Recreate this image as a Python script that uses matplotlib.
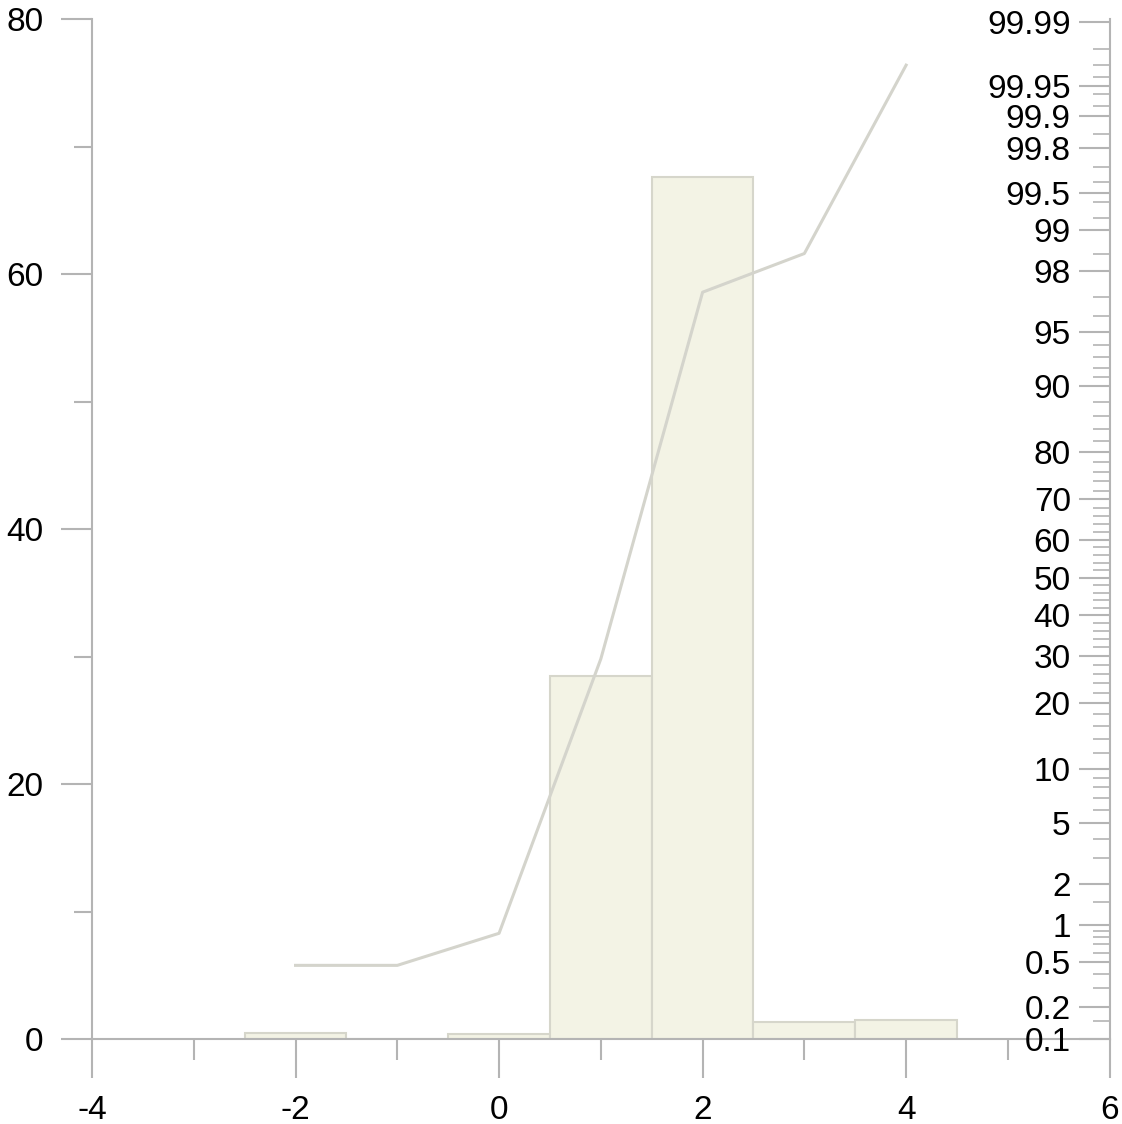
"""Histogram of class frequencies with the cumulative curve on a normal-probability axis."""
from statistics import NormalDist

import matplotlib
matplotlib.use("Agg")
import matplotlib.pyplot as plt
from matplotlib.ticker import FixedLocator

plt.rcParams["font.family"] = ["Liberation Sans", "DejaVu Sans"]
plt.rcParams["axes.unicode_minus"] = False

# class centres (bin width 1) and percent frequency per class
bin_centres = [-2, -1, 0, 1, 2, 3, 4]
frequency = [0.5, 0.0, 0.4, 28.5, 67.6, 1.3, 1.5]

# cumulative percent plotted at each class centre
cum_x = [-2, -1, 0, 1, 2, 3, 4]
cum_pct = [0.47, 0.47, 0.86, 29.3, 97.2, 98.5, 99.97]

prob_major = [0.1, 0.2, 0.5, 1, 2, 5, 10, 20, 30, 40, 50, 60, 70, 80,
              90, 95, 98, 99, 99.5, 99.8, 99.9, 99.95, 99.99]
prob_labels = ["0.1", "0.2", "0.5", "1", "2", "5", "10", "20", "30", "40",
               "50", "60", "70", "80", "90", "95", "98", "99", "99.5",
               "99.8", "99.9", "99.95", "99.99"]
prob_minor = ([0.15, 0.3, 0.4, 0.6, 0.7, 0.8, 0.9, 1.5, 3, 4, 6, 7, 8, 9]
              + [p for p in range(12, 90, 2) if p % 10]
              + [91, 92, 93, 94, 96, 97, 98.5, 99.2, 99.4, 99.6, 99.7,
                 99.85, 99.92, 99.94, 99.96, 99.97, 99.98])

GREY = "#b4b4b4"
BAR_FACE = "#f3f3e5"
BAR_EDGE = "#d6d6cb"
LINE = "#d4d4cc"
FS = 24

nd = NormalDist()


def z(p):
    return nd.inv_cdf(p / 100.0)


fig = plt.figure(figsize=(11.22, 11.24), dpi=100)
ax = fig.add_axes([0.082, 0.0756, 0.907, 0.9074])

ax.bar(bin_centres, frequency, width=1.0, color=BAR_FACE,
       edgecolor=BAR_EDGE, linewidth=1.5, zorder=2)
ax.set_xlim(-4, 6)
ax.set_ylim(0, 80)
ax.set_xticks([-4, -2, 0, 2, 4, 6])
ax.set_xticks([-3, -1, 1, 3, 5], minor=True)
ax.set_yticks([0, 20, 40, 60, 80])
ax.set_yticks([10, 30, 50, 70], minor=True)
for s in ("top", "right"):
    ax.spines[s].set_visible(False)
for s in ("left", "bottom"):
    ax.spines[s].set_color(GREY)
    ax.spines[s].set_linewidth(1.5)
ax.tick_params(axis="x", which="major", direction="out", length=28,
               width=1.5, color=GREY, pad=12, labelsize=FS)
ax.tick_params(axis="x", which="minor", direction="out", length=15,
               width=1.5, color=GREY)
ax.tick_params(axis="y", which="major", direction="out", length=22,
               width=1.5, color=GREY, pad=13, labelsize=FS)
ax.tick_params(axis="y", which="minor", direction="out", length=13,
               width=1.5, color=GREY)

# cumulative curve on the probability scale
lo, hi = -3.0905, 3.74
ax2 = ax.twinx()
ax2.plot(cum_x, [z(p) for p in cum_pct], color=LINE, lw=2.2, zorder=3)
ax2.set_ylim(lo, hi)
ax2.yaxis.set_major_locator(FixedLocator([z(p) for p in prob_major]))
ax2.set_yticklabels(prob_labels)
ax2.yaxis.set_minor_locator(FixedLocator([z(p) for p in prob_minor]))
for s in ("top", "left", "bottom"):
    ax2.spines[s].set_visible(False)
ax2.spines["right"].set_color(GREY)
ax2.spines["right"].set_linewidth(1.5)
ax2.spines["right"].set_bounds(lo, hi)
ax2.tick_params(axis="y", which="major", direction="in", length=22,
                width=1.5, color=GREY, pad=-28, labelsize=FS)
ax2.tick_params(axis="y", which="minor", direction="in", length=12,
                width=1.2, color=GREY)
for lbl in ax2.get_yticklabels():
    lbl.set_horizontalalignment("right")

fig.savefig("out.png", dpi=100)
